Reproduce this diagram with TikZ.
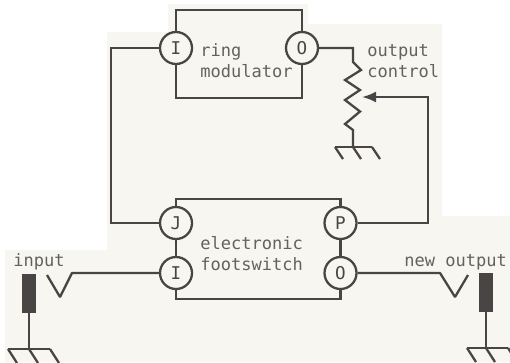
\documentclass[tikz,border=0pt]{standalone}
\usepackage{fontspec}
\setmonofont{DejaVu Sans Mono}
\usepackage{xcolor}
\usetikzlibrary{arrows.meta, positioning, calc}
\definecolor{paper}{HTML}{F7F6F0}
\definecolor{ink}{HTML}{4A4545}

\begin{document}
\begin{tikzpicture}[
  port/.style={circle, draw=ink, line width=1.3pt, fill=paper, minimum size=0.64cm,
               inner sep=0pt, font=\ttfamily\fontsize{10}{12}\selectfont, text=ink},
  unit/.style={rectangle, draw=ink, line width=1.3pt, anchor=north west, outer sep=0pt},
  wire/.style={draw=ink, line width=1.3pt},
  lbl/.style={font=\ttfamily\fontsize{9.7}{11.4}\selectfont, text=ink!85, align=left,
              inner sep=0pt, anchor=base west},
  plug/.style={rectangle, fill=ink, minimum width=0.28cm, minimum height=0.78cm, inner sep=0pt}
]
\useasboundingbox (0,0) rectangle (10.2,-7.24);

%% Paper
\fill[white] (0,0) rectangle (10.2,-7.24);
\fill[paper] (3.36,-0.08) -- (6.16,-0.08) -- (6.16,-0.48) -- (8.84,-0.48) -- (8.84,-4.32)
  -- (10.2,-4.32) -- (10.2,-7.24) -- (0.1,-7.24) -- (0.1,-5) -- (2.14,-5) -- (2.14,-0.64)
  -- (3.36,-0.64) -- cycle;

%% Boxes
\node[unit, minimum width=2.52cm, minimum height=1.76cm] (ringbox) at (3.52,-0.2) {};
\node[unit, minimum width=3.29cm, minimum height=2cm] (footbox) at (3.52,-3.98) {};

%% Ports
\node[port] (ringI) at (3.52,-0.96) {I};
\node[port] (ringO) at (6.04,-0.96) {O};
\node[port] (footJ) at (3.52,-4.46) {J};
\node[port] (footI) at (3.52,-5.46) {I};
\node[port] (footP) at (6.81,-4.46) {P};
\node[port] (footO) at (6.81,-5.46) {O};

%% Plugs
\node[plug] (inplug)  at (0.58,-5.87) {};
\node[plug] (outplug) at (9.72,-5.85) {};

%% Corners
\coordinate (potTop) at (7.06,-0.96);
\coordinate (potEnd) at (7.06,-2.94);
\coordinate (potTap) at (7.24,-1.94);
\coordinate (feedA)  at (8.56,-1.94);
\coordinate (feedB)  at (8.56,-4.46);
\coordinate (loopA)  at (2.22,-0.96);
\coordinate (loopB)  at (2.22,-4.46);
\coordinate (inV)    at (1.44,-5.46);
\coordinate (outV)   at (8.8,-5.46);
\coordinate (gndB)   at (0.58,-6.98);
\coordinate (gndC)   at (9.72,-6.96);

%% Wires
\draw[wire] (ringI) -- (loopA) -- (loopB) -- (footJ);
\draw[wire] (footJ) -- (footI);
\draw[wire] (footP) -- (footO);
\draw[wire] (ringO) -- (potTop) -- (7.06,-1.24) -- (7.22,-1.4) -- (6.9,-1.6) -- (7.2,-1.8)
  -- (6.9,-2) -- (7.2,-2.23) -- (6.9,-2.48) -- (7.06,-2.6) -- (potEnd);
\draw[wire, -{Latex[length=0.28cm,width=0.22cm]}] (footP) -- (feedB) -- (feedA) -- (potTap);
\draw[wire, line join=bevel] (footI) -- (inV) -- (1.2,-5.94) -- (0.94,-5.5);
\draw[wire, line join=bevel] (footO) -- (outV) -- (9.1,-5.94) -- (9.36,-5.5);
\draw[wire] (inplug) -- (gndB);
\draw[wire] (outplug) -- (gndC);

%% Grounds
\draw[wire] (6.7,-2.94) -- (7.44,-2.94);
\draw[wire] (6.7,-2.94) -- ++(0.16,-0.24);
\draw[wire] (7.06,-2.94) -- ++(0.16,-0.24);
\draw[wire] (7.44,-2.94) -- ++(0.16,-0.24);
\draw[wire] (0.16,-6.98) -- (1,-6.98);
\draw[wire] (0.16,-6.98) -- ++(0.18,-0.28);
\draw[wire] (0.58,-6.98) -- ++(0.18,-0.28);
\draw[wire] (1,-6.98) -- ++(0.18,-0.28);
\draw[wire] (9.34,-6.96) -- (10.16,-6.96);
\draw[wire] (9.34,-6.96) -- ++(0.18,-0.28);
\draw[wire] (9.72,-6.96) -- ++(0.18,-0.28);
\draw[wire] (10.16,-6.96) -- ++(0.18,-0.28);

%% Labels
\node[lbl] (ringlbl) at (4,-1.54)    {ring\\modulator};
\node[lbl] (potlbl)  at (7.34,-1.54) {output\\control};
\node[lbl] (footlbl) at (4,-5.4)     {electronic\\footswitch};
\node[lbl] (inlbl)   at (0.26,-5.32) {input};
\node[lbl] (outlbl)  at (8.08,-5.32) {new output};
\end{tikzpicture}
\end{document}
